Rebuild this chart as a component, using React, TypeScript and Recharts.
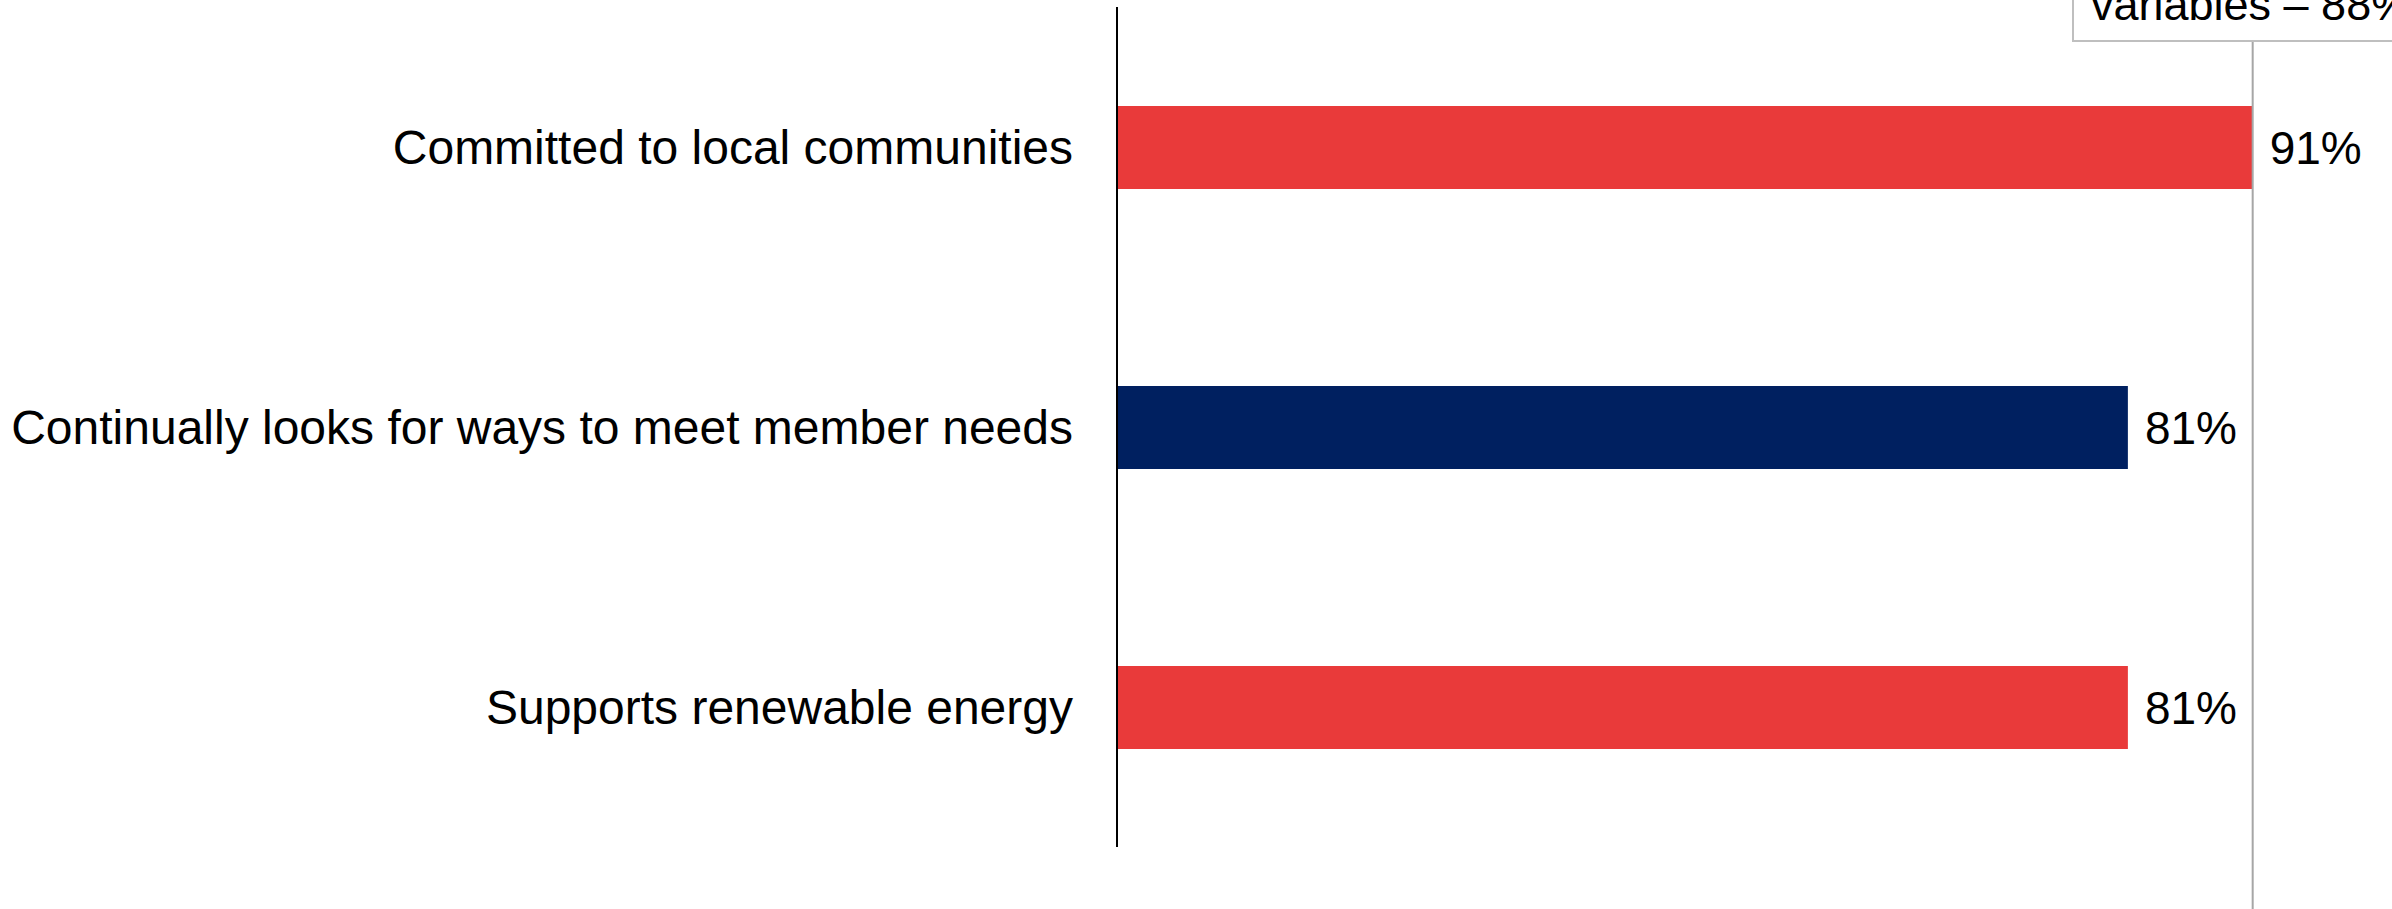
import { BarChart, Bar, XAxis, YAxis, Cell, LabelList, ReferenceLine } from "recharts";

const categories = [
  "Committed to local communities",
  "Continually looks for ways to meet member needs",
  "Supports renewable energy",
];
const values = [91, 81, 81];
const barColors = ["#E93A3A", "#002060", "#E93A3A"];

// the grey line sits at the end of the top bar in the source picture
const averageLineAt = 91;
const averageLabel = "variables – 88%";

const FONT = "'Liberation Sans', Arial, sans-serif";

const data = categories.map((name, i) => ({ name, value: values[i] }));

function AverageLine(props: any) {
  const x = props.x1;
  return (
    <g>
      <line x1={x} y1={41} x2={x} y2={909} stroke="#A6A6A6" strokeWidth={2} />
      <rect x={2073} y={-20} width={400} height={61} fill="#fff" stroke="#BFBFBF" strokeWidth={2} />
      <text x={2091} y={20} fontSize={45} fontFamily={FONT} fill="#000">
        {averageLabel}
      </text>
    </g>
  );
}

function CategoryTick(props: any) {
  const { x, y, payload } = props;
  return (
    <text
      x={x}
      y={y}
      dy="0.355em"
      textAnchor="end"
      fontSize={48}
      fontFamily={FONT}
      fill="#000"
    >
      {payload.value}
    </text>
  );
}

export default function App() {
  return (
    <div style={{ position: "absolute", left: 0, top: 0, width: 2392, height: 909, background: "#fff" }}>
      <BarChart
        width={2392}
        height={909}
        data={data}
        layout="vertical"
        margin={{ top: 7, right: 27, bottom: 62, left: 0 }}
      >
        <XAxis type="number" domain={[0, 100]} hide />
        <YAxis
          type="category"
          dataKey="name"
          width={1117}
          axisLine={{ stroke: "#000", strokeWidth: 2 }}
          tickLine={false}
          tickSize={0}
          tickMargin={44}
          tick={<CategoryTick />}
        />
        <Bar dataKey="value" barSize={83} isAnimationActive={false}>
          {data.map((d, i) => (
            <Cell key={d.name} fill={barColors[i]} />
          ))}
          <LabelList
            dataKey="value"
            position="right"
            offset={17}
            formatter={(v: any) => `${v}%`}
            fill="#000"
            fontSize={46}
            fontFamily={FONT}
          />
        </Bar>
        <ReferenceLine x={averageLineAt} ifOverflow="visible" shape={<AverageLine />} />
      </BarChart>
    </div>
  );
}
